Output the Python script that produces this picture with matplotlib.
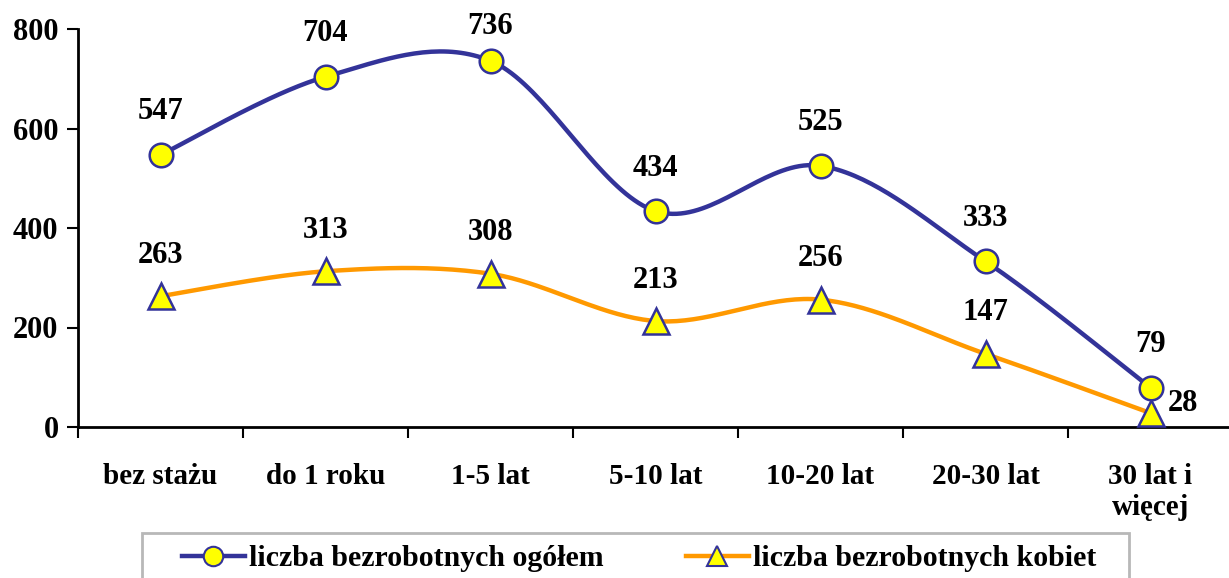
import numpy as np
import matplotlib
matplotlib.use("Agg")
import matplotlib.pyplot as plt
from matplotlib.lines import Line2D
from matplotlib.patches import Rectangle

plt.rcParams.update({
    "font.family": ["Liberation Serif", "DejaVu Serif"],
    "font.weight": "bold", "font.size": 21,
})
NAVY = "#333399"; ORANGE = "#FF9900"; YELLOW = "#FFFF00"

categories = ["bez stażu", "do 1 roku", "1-5 lat", "5-10 lat", "10-20 lat", "20-30 lat", "30 lat i\nwięcej"]
ogolem = [547, 704, 736, 434, 525, 333, 79]
kobiety = [263, 313, 308, 213, 256, 147, 28]
yticks = [0, 200, 400, 600, 800]


def smooth(xs, ys, n=40):
    # Excel-style smoothed line: cubic Bezier with Catmull-Rom control points
    p = np.column_stack([xs, ys]).astype(float)
    pad = np.vstack([p[0], p, p[-1]])
    out = []
    for i in range(len(p) - 1):
        p0, p1, p2, p3 = pad[i], pad[i + 1], pad[i + 2], pad[i + 3]
        c1 = p1 + (p2 - p0) / 6
        c2 = p2 - (p3 - p1) / 6
        t = np.linspace(0, 1, n)[:, None]
        seg = (1 - t) ** 3 * p1 + 3 * (1 - t) ** 2 * t * c1 + 3 * (1 - t) * t ** 2 * c2 + t ** 3 * p2
        out.append(seg if i == 0 else seg[1:])
    s = np.vstack(out)
    return s[:, 0], s[:, 1]


W, H = 1229, 578
fig = plt.figure(figsize=(W / 100, H / 100), dpi=100)
ax = fig.add_axes([78 / W, 1 - 427 / H, (1233 - 78) / W, (427 - 29) / H])
x = np.arange(len(categories))

sx, sy = smooth(x, ogolem)
ax.plot(sx, sy, color=NAVY, lw=3.2, zorder=2)
sx, sy = smooth(x, kobiety)
ax.plot(sx, sy, color=ORANGE, lw=3.2, zorder=2)
ax.plot(x, ogolem, ls="none", marker="o", ms=17, mfc=YELLOW, mec=NAVY, mew=1.8, zorder=4, clip_on=False)
ax.plot(x, kobiety, ls="none", marker="^", ms=19, mfc=YELLOW, mec=NAVY, mew=1.8, zorder=3, clip_on=False)

ax.set_xlim(-0.5, len(categories) - 0.5)
ax.set_ylim(0, 800)

px_per_unit = (427 - 29) / 800.0


def label(i, v, dx=0, dy=42):
    # keep labels inside the chart area, like Excel does
    top_px = 29 + (800 - v) * px_per_unit
    dy = min(dy, top_px - 27)
    ax.annotate(str(v), (i, v), xytext=(dx * 0.72, dy * 0.72), textcoords="offset points",
                ha="center", va="center", fontsize=22, fontweight="bold")


for i, v in enumerate(ogolem):
    label(i, v, dy=43)
for i, v in enumerate(kobiety):
    if i == len(kobiety) - 1:
        label(i, v, dx=32, dy=10)
    else:
        label(i, v, dy=41)

ax.set_yticks(yticks)
ax.set_xticks(np.arange(len(categories) + 1) - 0.5)
ax.set_xticklabels([])
ax.set_xticks(x, minor=True)
ax.set_xticklabels(categories, minor=True, fontsize=21, fontweight="bold", linespacing=1.2)
ax.tick_params(axis="x", which="major", length=8, width=1.5, direction="out")
ax.tick_params(axis="x", which="minor", length=0, pad=26)
ax.tick_params(axis="y", length=8, width=1.5, pad=6, labelsize=22)
for lab in ax.get_yticklabels():
    lab.set_fontweight("bold")
for sp in ("top", "right"):
    ax.spines[sp].set_visible(False)
for sp in ("left", "bottom"):
    ax.spines[sp].set_linewidth(2)

# legend frame (runs off the bottom edge, as in the source)
fig.patches.append(Rectangle((142 / W, -0.05), (1129 - 142) / W, 0.05 + (1 - 533 / H),
                             transform=fig.transFigure, fill=False, ec="#b8b8b8", lw=2))
handles = [
    Line2D([], [], color=NAVY, lw=3.2, marker="o", ms=14, mfc=YELLOW, mec=NAVY, mew=1.5),
    Line2D([], [], color=ORANGE, lw=3.2, marker="^", ms=15, mfc=YELLOW, mec=NAVY, mew=1.5),
]
fig.legend(handles, ["liczba bezrobotnych ogółem", "liczba bezrobotnych kobiet"],
           loc="center left", bbox_to_anchor=(182 / W, 1 - 559 / H),
           ncol=2, frameon=False, handlelength=2.1, handletextpad=0.15,
           columnspacing=2.75, borderpad=0, borderaxespad=0,
           prop={"weight": "bold", "size": 21.5})

fig.savefig("out.png", dpi=100)
